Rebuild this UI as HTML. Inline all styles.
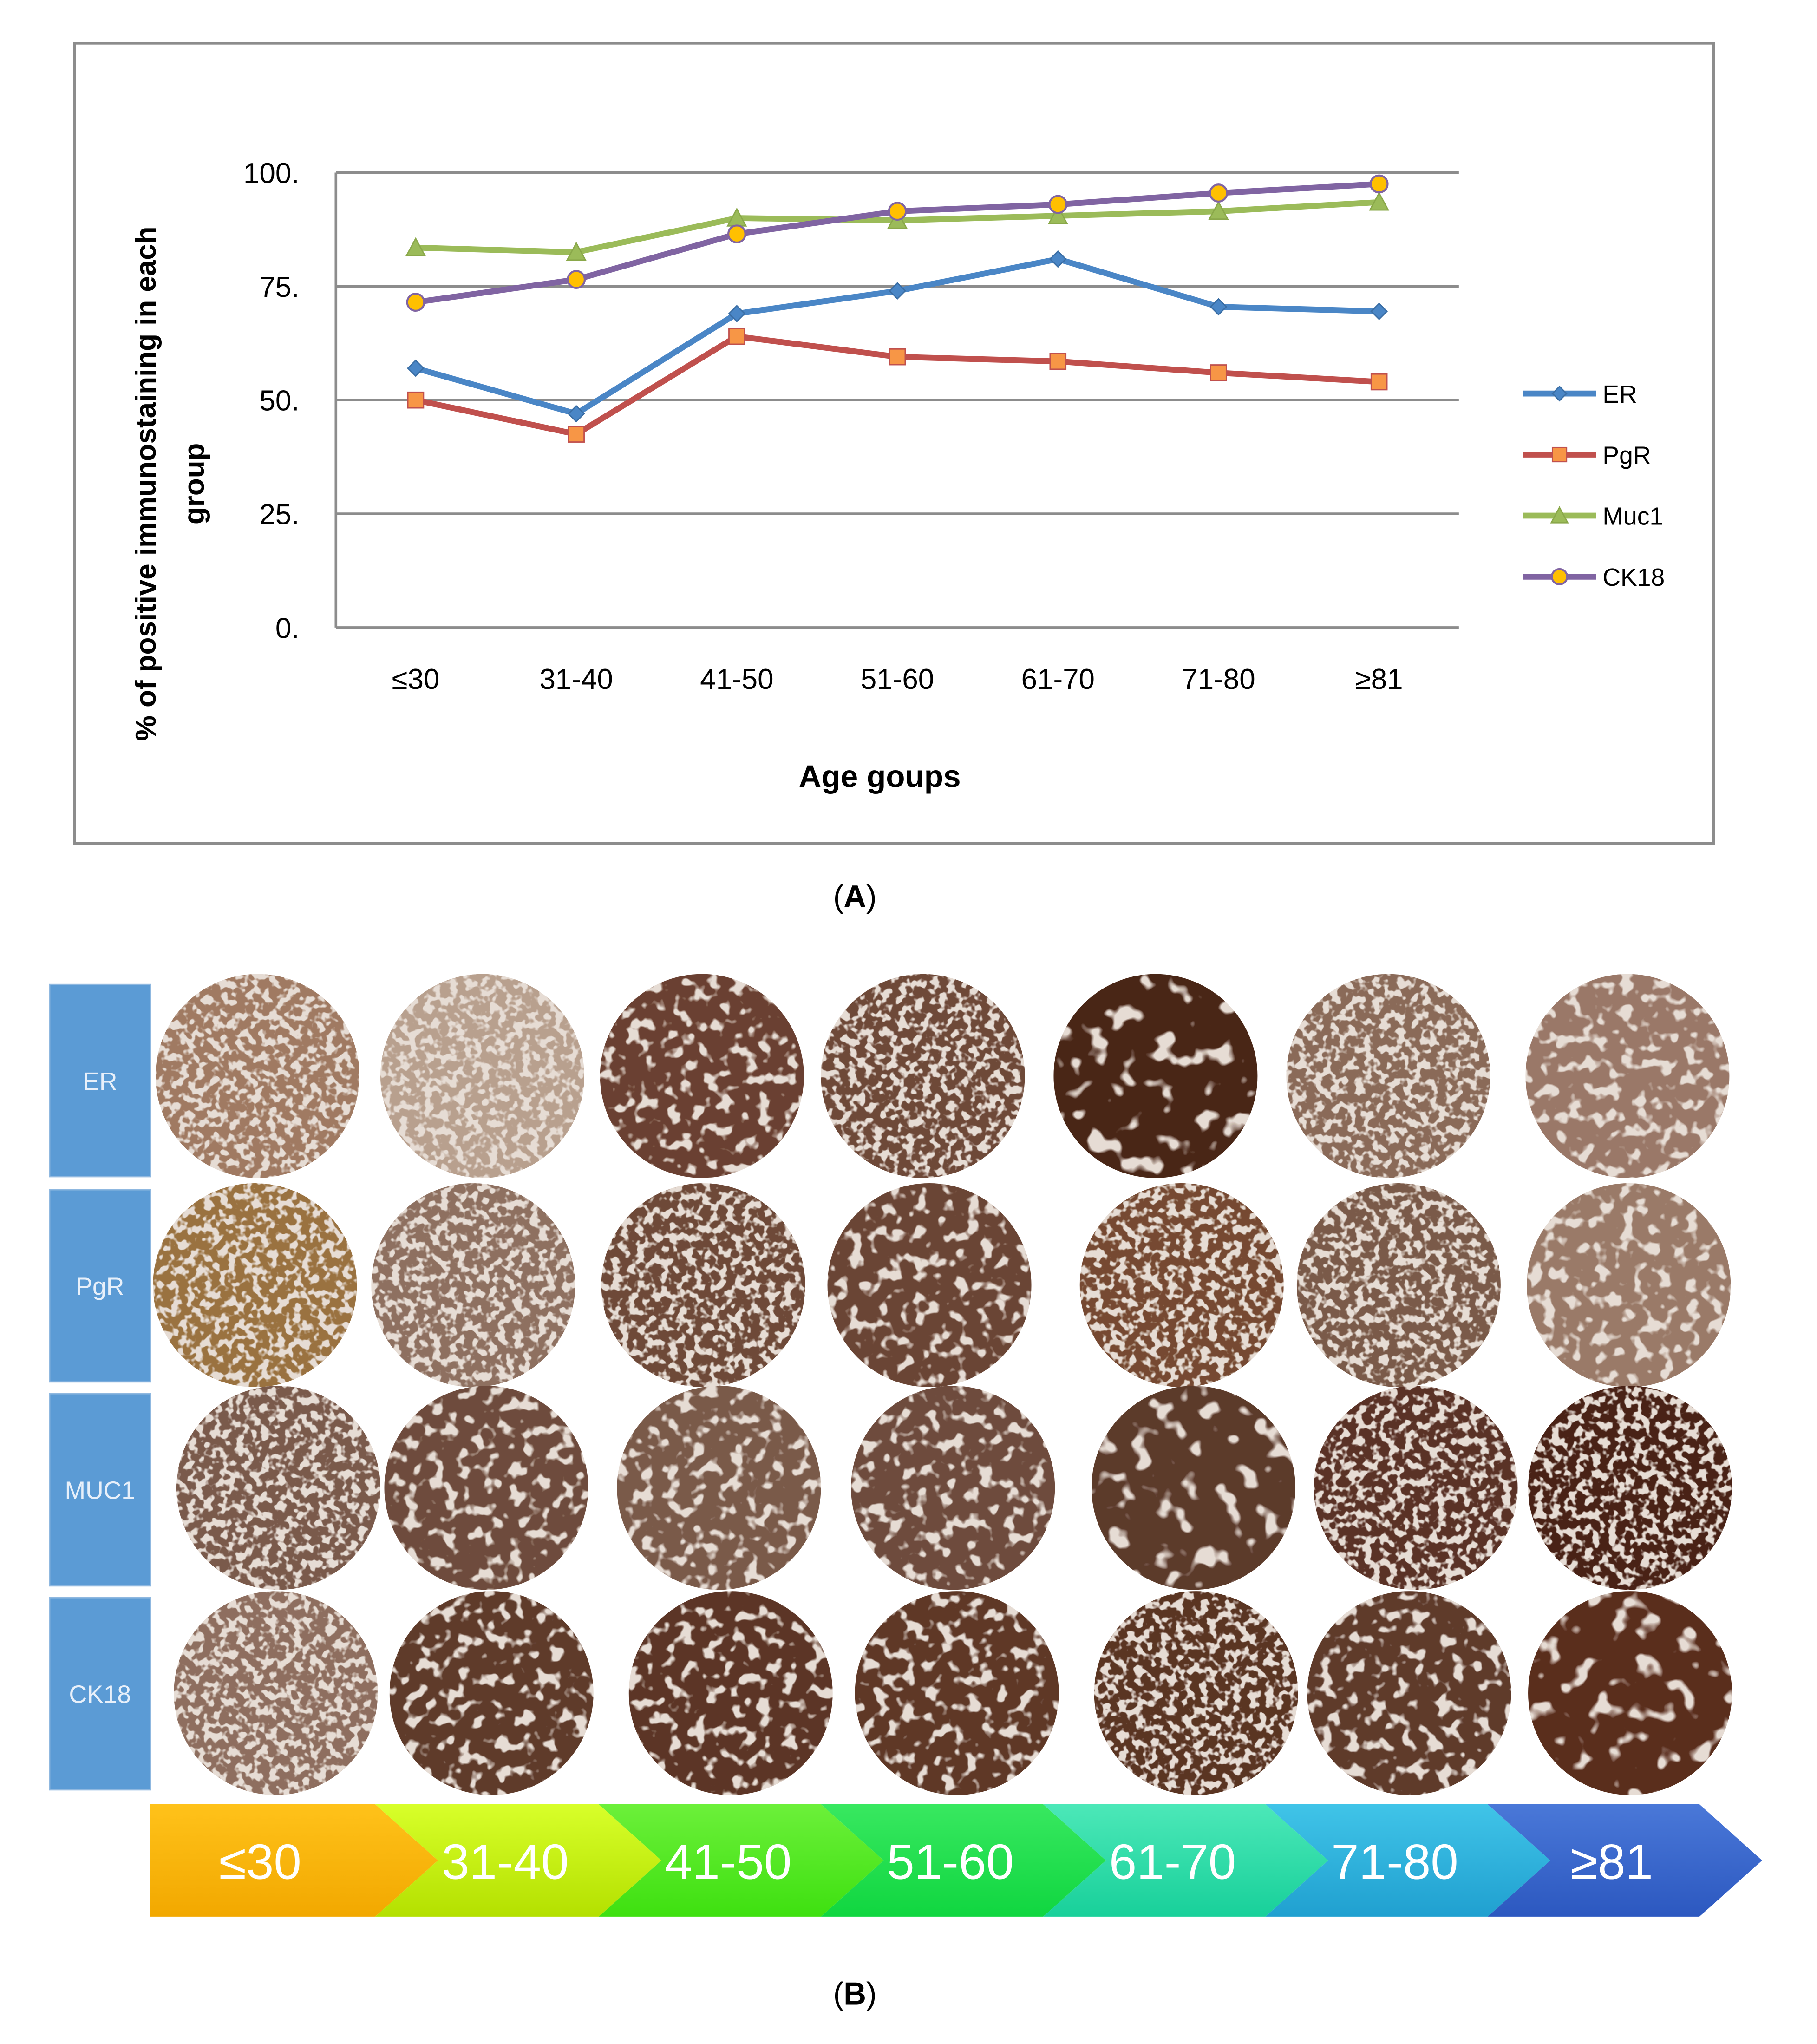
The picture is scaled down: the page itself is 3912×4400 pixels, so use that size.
<!DOCTYPE html>
<html><head><meta charset="utf-8">
<style>
html,body{margin:0;padding:0;background:#fff;}
svg{display:block;}
text{font-family:"Liberation Sans","DejaVu Sans",sans-serif;}
</style></head>
<body>
<svg id="fig" width="3912" height="4400" viewBox="0 0 1390 1563.4" xmlns="http://www.w3.org/2000/svg">
<defs>
  <filter id="tex1" x="0" y="0" width="1" height="1">
    <feTurbulence type="fractalNoise" baseFrequency="0.16" numOctaves="2" seed="3"/>
    <feColorMatrix type="matrix" values="0 0 0 0 0  0 0 0 0 0  0 0 0 0 0  0 0 0 -9 5.4"/>
    <feComposite in="SourceGraphic" operator="in"/>
  </filter>
  <filter id="tex2" x="0" y="0" width="1" height="1">
    <feTurbulence type="fractalNoise" baseFrequency="0.1" numOctaves="2" seed="7"/>
    <feColorMatrix type="matrix" values="0 0 0 0 0  0 0 0 0 0  0 0 0 0 0  0 0 0 -9 5.9"/>
    <feComposite in="SourceGraphic" operator="in"/>
  </filter>
  <filter id="tex3" x="0" y="0" width="1" height="1">
    <feTurbulence type="fractalNoise" baseFrequency="0.06" numOctaves="2" seed="11"/>
    <feColorMatrix type="matrix" values="0 0 0 0 0  0 0 0 0 0  0 0 0 0 0  0 0 0 -10 6.8"/>
    <feComposite in="SourceGraphic" operator="in"/>
  </filter>
  <linearGradient id="g0" x1="0" y1="0" x2="0" y2="1"><stop offset="0" stop-color="#ffc21a"/><stop offset="1" stop-color="#f2a800"/></linearGradient>
  <linearGradient id="g1" x1="0" y1="0" x2="0" y2="1"><stop offset="0" stop-color="#d8ff2a"/><stop offset="1" stop-color="#b4e000"/></linearGradient>
  <linearGradient id="g2" x1="0" y1="0" x2="0" y2="1"><stop offset="0" stop-color="#6cf03a"/><stop offset="1" stop-color="#3ee010"/></linearGradient>
  <linearGradient id="g3" x1="0" y1="0" x2="0" y2="1"><stop offset="0" stop-color="#38e860"/><stop offset="1" stop-color="#10d640"/></linearGradient>
  <linearGradient id="g4" x1="0" y1="0" x2="0" y2="1"><stop offset="0" stop-color="#4ce8b8"/><stop offset="1" stop-color="#18d09a"/></linearGradient>
  <linearGradient id="g5" x1="0" y1="0" x2="0" y2="1"><stop offset="0" stop-color="#40c4e8"/><stop offset="1" stop-color="#20a0d0"/></linearGradient>
  <linearGradient id="g6" x1="0" y1="0" x2="0" y2="1"><stop offset="0" stop-color="#4a78d8"/><stop offset="1" stop-color="#2c58c0"/></linearGradient>
</defs>

<rect x="57" y="33" width="1254" height="612" fill="#fff" stroke="#8c8c8c" stroke-width="2"/>
<g id="grid"></g>
<g id="yticks"></g>
<g id="xticks"></g>
<g id="series"></g>
<text x="128" y="370" transform="rotate(-90 128 370)" text-anchor="middle" font-size="22" font-weight="bold" fill="#000"><tspan x="128" dy="-9">% of positive immunostaining in each</tspan><tspan x="128" dy="37">group</tspan></text>
<text x="673" y="602" text-anchor="middle" font-size="24" font-weight="bold" fill="#000">Age goups</text>
<g id="legend"></g>
<text x="654" y="694" text-anchor="middle" font-size="24" font-family="Liberation Serif">(<tspan font-weight="bold">A</tspan>)</text>

<g id="panelB"></g>
<g id="arrowbar"></g>
<text x="654" y="1533" text-anchor="middle" font-size="24" font-family="Liberation Serif">(<tspan font-weight="bold">B</tspan>)</text>
</svg>

<script>
const categories = ["≤30","31-40","41-50","51-60","61-70","71-80","≥81"];
const erValues   = [57, 47, 69, 74, 81, 70.5, 69.5];
const pgrValues  = [50, 42.5, 64, 59.5, 58.5, 56, 54];
const muc1Values = [83.5, 82.5, 90, 89.5, 90.5, 91.5, 93.5];
const ck18Values = [71.5, 76.5, 86.5, 91.5, 93, 95.5, 97.5];
const yTicks = [0, 25, 50, 75, 100];
const seriesNames = ["ER","PgR","Muc1","CK18"];

const NS = "http://www.w3.org/2000/svg";
const plot = {x0:257, x1:1116, y0:480, y1:132};
function yScale(v){ return plot.y0 - (v/100)*(plot.y0-plot.y1); }
function xScale(i){ return 318 + i*(1055-318)/(categories.length-1); }
function mk(tag, attrs, parent){ const e=document.createElementNS(NS,tag); for(const k in attrs) e.setAttribute(k, attrs[k]); parent.appendChild(e); return e; }

const grid=document.getElementById('grid'), yt=document.getElementById('yticks'), xt=document.getElementById('xticks');
yTicks.forEach(t=>{
  if(t>0){
    const l=mk('line',{x1:plot.x0,x2:plot.x1,y1:yScale(t),y2:yScale(t),stroke:'#8c8c8c','stroke-width':2},grid);
    
    
  }
  const tx=mk('text',{x:229,y:yScale(t)+8,'text-anchor':'end','font-size':22,fill:'#000'},yt);
  tx.textContent=t+'.';
  
  
});
const ax=mk('line',{x1:plot.x0,x2:plot.x0,y1:plot.y1,y2:plot.y0,stroke:'#8c8c8c','stroke-width':2},grid);


const bx=mk('line',{x1:plot.x0,x2:plot.x1,y1:plot.y0,y2:plot.y0,stroke:'#8c8c8c','stroke-width':2},grid);


categories.forEach((c,i)=>{
  const tx=mk('text',{x:xScale(i),y:527,'text-anchor':'middle','font-size':22,fill:'#000'},xt);
  tx.textContent=c;
  
  
});

const colors={ER:'#4a86c6',PgR:'#c0504d',Muc1:'#9bbb59',CK18:'#8064a2'};
const markFill={ER:'#4a86c6',PgR:'#f79646',Muc1:'#9bbb59',CK18:'#ffc000'};
const data={ER:erValues,PgR:pgrValues,Muc1:muc1Values,CK18:ck18Values};
const ser=document.getElementById('series');
function marker(name,cx,cy,parent,s){
  let m;
  if(name==='ER') m=mk('polygon',{points:`${cx},${cy-6*s} ${cx+6*s},${cy} ${cx},${cy+6*s} ${cx-6*s},${cy}`,fill:markFill.ER,stroke:'#3a6ea5','stroke-width':1},parent);
  else if(name==='PgR') m=mk('rect',{x:cx-6*s,y:cy-6*s,width:12*s,height:12*s,fill:markFill.PgR,stroke:'#c0504d','stroke-width':1},parent);
  else if(name==='Muc1') m=mk('polygon',{points:`${cx},${cy-7*s} ${cx+7*s},${cy+6*s} ${cx-7*s},${cy+6*s}`,fill:'#9bbb59',stroke:'#8aa84a','stroke-width':1},parent);
  else m=mk('circle',{cx:cx,cy:cy,r:6.5*s,fill:markFill.CK18,stroke:'#8064a2','stroke-width':1.5},parent);
  return m;
}
["PgR","ER","Muc1","CK18"].forEach(name=>{
  const vals=data[name];
  const pts=vals.map((v,i)=>xScale(i)+','+yScale(v)).join(' ');
  const pl=mk('polyline',{points:pts,fill:'none',stroke:colors[name],'stroke-width':4.5,'stroke-linejoin':'round'},ser);
  
  
  vals.forEach((v,i)=>{
    const m=marker(name,xScale(i),yScale(v),ser,1);
    
    
  });
});
const lg=document.getElementById('legend');
seriesNames.forEach((name,i)=>{
  const y=301+i*46.7;
  const g=mk('g',{},lg);
  
  
  mk('line',{x1:1165,x2:1221,y1:y,y2:y,stroke:colors[name],'stroke-width':4.5},g);
  marker(name,1193,y,g,0.9);
  const t=mk('text',{x:1226,y:y+7,'font-size':19,fill:'#000'},g);
  t.textContent=name;
});

const rowLabels=["ER","PgR","MUC1","CK18"];
const rowBox=[[753,900],[910,1057],[1066,1213],[1222,1369]];
const centers=[
 [[197,823],[369,823],[537,823],[706,823],[884,823],[1062,823],[1245,823]],
 [[195,983],[362,983],[538,983],[711,983],[904,983],[1070,983],[1246,983]],
 [[213,1138],[372,1138],[550,1138],[729,1138],[913,1138],[1083,1138],[1247,1138]],
 [[211,1295],[376,1295],[559,1295],[732,1295],[915,1295],[1078,1295],[1247,1295]]];
const tone=[
 [['#a07a62',1],['#b8a08e',1],['#6a4030',2],['#6e4838',1],['#4a2618',3],['#8a6a58',1],['#9a7868',2]],
 [['#9a7240',1],['#8e7060',1],['#6e4a38',1],['#6a4434',2],['#764a30',1],['#7a5a48',1],['#9a7a68',2]],
 [['#7a5a4c',1],['#6e4c3c',2],['#7a5a4a',2],['#6e4c3e',2],['#5c3a2c',3],['#5a3226',1],['#4a2418',1]],
 [['#8e6e5e',1],['#5e3a2a',2],['#5c3626',2],['#5e3828',2],['#5a3424',1],['#5e3a2c',2],['#5a2e1e',3]]];
const pb=document.getElementById('panelB');
rowLabels.forEach((lab,r)=>{
  const [y0,y1]=rowBox[r];
  const g=mk('g',{},pb);
  
  
  mk('rect',{x:38,y:y0,width:77,height:y1-y0,fill:'#5b9bd5',stroke:'#8fb8e0','stroke-width':1},g);
  const t=mk('text',{x:76.5,y:(y0+y1)/2+7,'text-anchor':'middle','font-size':19,fill:'#e8f0fa'},g);
  t.textContent=lab;
  centers[r].forEach(([cx,cy],c)=>{
    const cg=mk('g',{},pb);
    
    
    mk('circle',{cx:cx,cy:cy,r:78,fill:'#e6dcd4'},cg);
    const [col,f]=tone[r][c];
    mk('rect',{x:cx-78,y:cy-78,width:156,height:156,fill:col,filter:'url(#tex'+f+')','clip-path':'circle(78px at 78px 78px)'},cg);
  });
});

const ab=document.getElementById('arrowbar');
const segX=[115,287,458,628,798,968,1138,1300];
const gy0=1380, gy1=1466, gm=(gy0+gy1)/2, tip=48;
categories.forEach((c,i)=>{
  const g=mk('g',{},ab);
  
  
  const xa=segX[i], xb=segX[i+1];
  let pts;
  if(i===0) pts=`${xa},${gy0} ${xb},${gy0} ${xb+tip},${gm} ${xb},${gy1} ${xa},${gy1}`;
  else pts=`${xa},${gy0} ${xb},${gy0} ${xb+tip},${gm} ${xb},${gy1} ${xa},${gy1} ${xa+tip},${gm}`;
  mk('polygon',{points:pts,fill:'url(#g'+i+')'},g);
  const t=mk('text',{x:(xa+xb)/2+ (i===0?-2:14),y:gm+14,'text-anchor':'middle','font-size':38,fill:'#ffffff'},g);
  t.textContent=c;
});
</script>
</body></html>
